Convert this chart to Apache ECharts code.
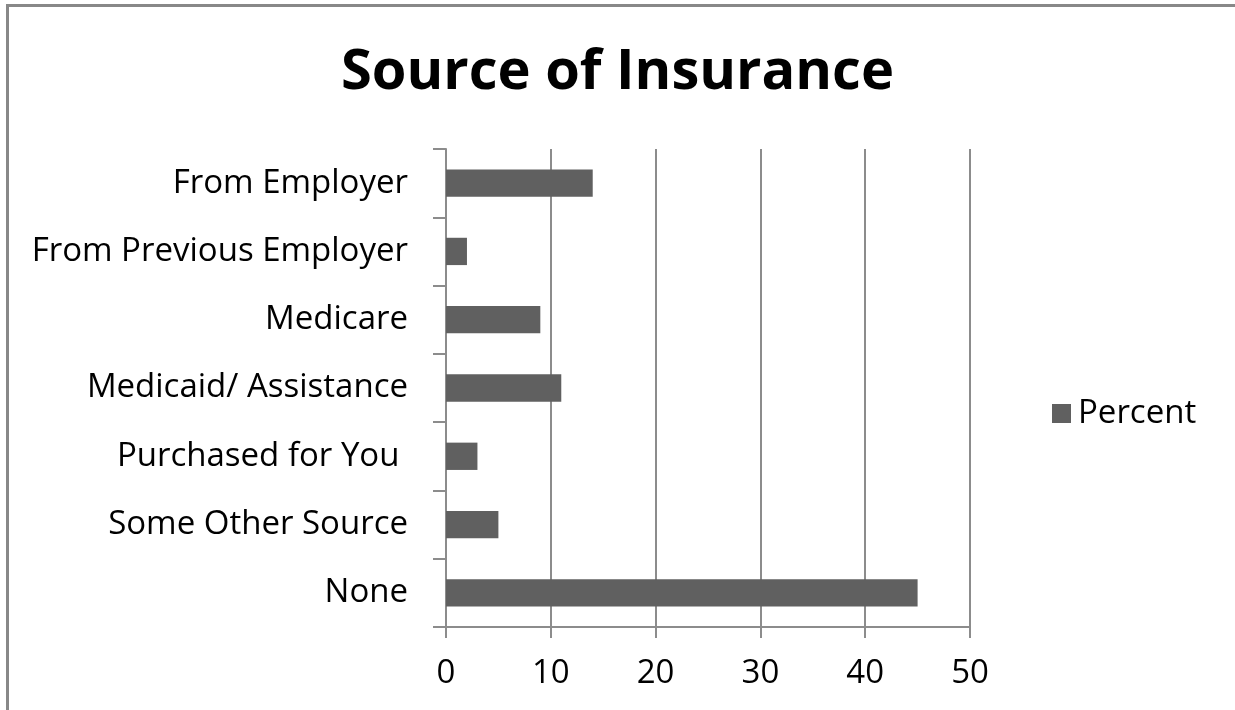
<!DOCTYPE html>
<html>
<head>
<meta charset="utf-8">
<script src="https://cdn.jsdelivr.net/npm/echarts@6/dist/echarts.min.js"></script>
<style>
html,body{margin:0;padding:0;background:#fff;}
#chart{width:1235px;height:710px;}
</style>
</head>
<body>
<div id="chart"></div>
<script>
const title = 'Source of Insurance';
const seriesName = 'Percent';
const categories = ['From Employer','From Previous Employer','Medicare','Medicaid/ Assistance','Purchased for You ','Some Other Source','None'];
const values = [14, 2, 9, 11, 3, 5, 45];
const axisMin = 0, axisMax = 50, axisStep = 10;

const chart = echarts.init(document.getElementById('chart'));
const font = '"Open Sans", "Noto Sans", sans-serif';
const lineColor = '#8c8c8c';
chart.setOption({
  animation: false,
  backgroundColor: '#fff',
  title: {
    text: title, left: 'center', top: 40,
    textStyle: {fontFamily: font, fontWeight: 'bold', fontSize: 56, color: '#000'}
  },
  legend: {
    data: [seriesName], left: 1047, top: 392, icon: 'rect', itemWidth: 19, itemHeight: 19, itemGap: 8,
    textStyle: {fontFamily: font, fontSize: 33, color: '#000', padding: [0, 0, 0, 2]}
  },
  grid: {left: 446, right: 1235 - 970, top: 149, bottom: 710 - 627, containLabel: false},
  xAxis: {
    type: 'value', min: axisMin, max: axisMax, interval: axisStep,
    axisLine: {show: true, lineStyle: {color: lineColor, width: 2}},
    axisTick: {show: true, length: 11, lineStyle: {color: lineColor, width: 2}},
    axisLabel: {fontFamily: font, fontSize: 33, color: '#000', margin: 30},
    splitLine: {show: true, lineStyle: {color: lineColor, width: 2}}
  },
  yAxis: {
    type: 'category', data: categories, inverse: true,
    axisLine: {show: true, lineStyle: {color: lineColor, width: 2}},
    axisTick: {show: true, length: 13, lineStyle: {color: lineColor, width: 2}},
    axisLabel: {fontFamily: font, fontSize: 33, color: '#000', margin: 38}
  },
  series: [{
    name: seriesName, type: 'bar', data: values, barWidth: '40%',
    itemStyle: {color: '#606060'}
  }],
  graphic: [
    {type: 'line', shape: {x1: 7.5, y1: 5.5, x2: 1235, y2: 5.5}, style: {stroke: '#888', lineWidth: 3}},
    {type: 'line', shape: {x1: 7.5, y1: 4, x2: 7.5, y2: 710}, style: {stroke: '#888', lineWidth: 3}}
  ]
});
</script>
</body>
</html>
